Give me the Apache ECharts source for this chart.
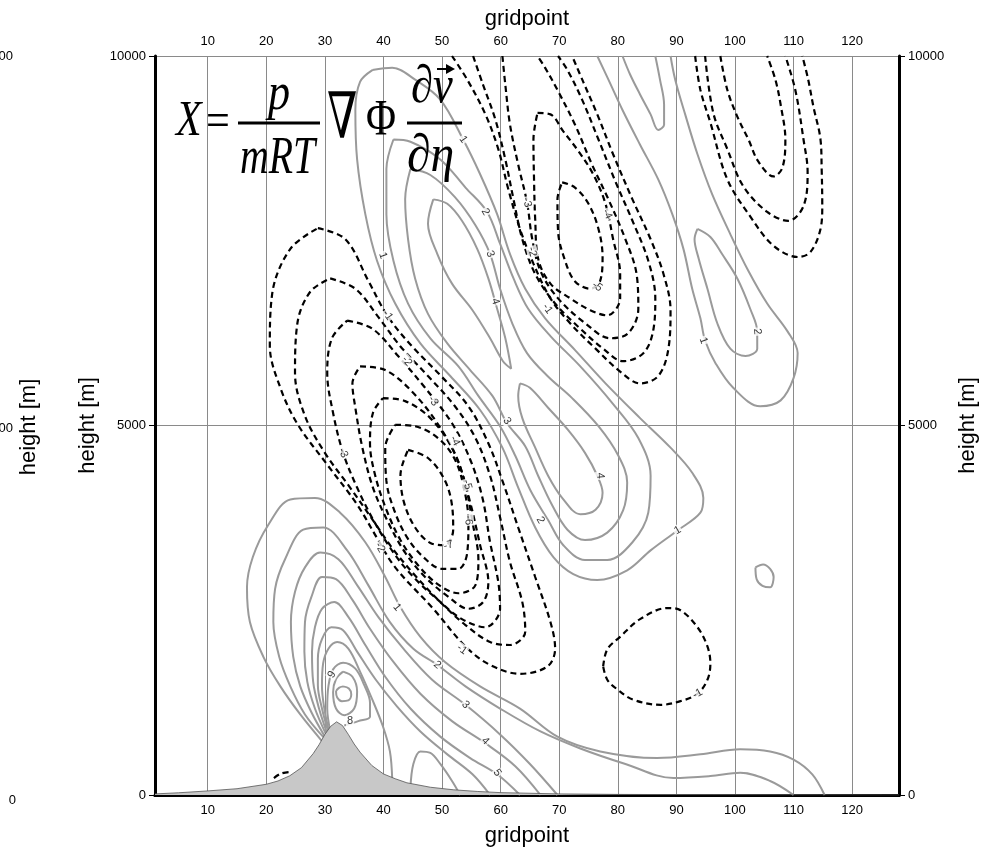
<!DOCTYPE html>
<html>
<head>
<meta charset="utf-8">
<title>X term contours</title>
<script src="https://cdn.jsdelivr.net/npm/echarts@6/dist/echarts.min.js"></script>
<style>
  html, body { margin: 0; padding: 0; background: #fff; }
  #chart { width: 994px; height: 852px; }
</style>
</head>
<body>
<div id="chart"></div>
<script>
// axis ticks
const xTicks = [10, 20, 30, 40, 50, 60, 70, 80, 90, 100, 110, 120];
const yTicks = [0, 5000, 10000];

// terrain profile (gridpoint, height m)
const terrainGrid = [1, 5, 10, 15, 20, 22, 24, 26, 28, 29, 30, 31, 32, 33, 34, 35, 36, 38, 40, 42, 44, 48, 52, 56, 60, 70, 80, 100, 128];
const terrainHeight = [15, 30, 55, 85, 145, 190, 260, 370, 560, 680, 820, 930, 990, 940, 820, 690, 580, 400, 285, 220, 165, 105, 70, 48, 32, 15, 8, 3, 0];

// negative contours, big lower cell (-1 .. -7)
const lowerNeg1 = [[28.8,7670],[33.5,7520],[37.4,6960],[40.8,6470],[44.9,6070],[49.7,5680],[54.5,5260],[57.9,4760],[60.4,4230],[63.0,3620],[65.9,2950],[68.5,2340],[69.3,1980],[68.0,1740],[63.3,1640],[58.2,1760],[54.0,2010],[48.5,2520],[42.0,3080],[39.1,3450],[35.5,3930],[30.4,4470],[25.4,5010],[22.4,5510],[20.6,6080],[21.0,6780],[24.1,7390],[28.8,7670]];
const lowerNeg2 = [[30.9,6990],[35.2,6850],[39.1,6470],[42.9,6070],[47.6,5670],[52.2,5260],[55.7,4830],[58.2,4320],[59.9,3760],[61.6,3150],[63.7,2610],[64.2,2210],[61.6,2030],[58.2,2070],[54.0,2300],[49.7,2610],[45.4,2970],[41.7,3320],[38.1,3730],[34.3,4160],[30.0,4630],[26.6,5130],[24.9,5710],[25.3,6380],[27.5,6810],[30.9,6990]];
const lowerNeg3 = [[33.8,6420],[38.1,6310],[42.5,5940],[47.1,5510],[51.7,5030],[54.8,4540],[56.9,4020],[58.2,3420],[59.6,2880],[59.9,2520],[57.4,2270],[53.4,2380],[49.3,2640],[45.1,2950],[41.7,3280],[38.2,3730],[35.5,4160],[33.1,4630],[31.4,5170],[30.4,5710],[31.2,6180],[33.8,6420]];
const lowerNeg4 = [[36.0,5800],[40.3,5750],[45.1,5440],[49.7,4970],[52.8,4500],[54.8,3960],[56.5,3380],[57.9,2880],[57.0,2610],[54.5,2520],[51.1,2680],[47.1,2950],[43.7,3280],[40.8,3690],[38.2,4160],[36.4,4700],[35.2,5240],[34.7,5570],[36.0,5800]];
const lowerNeg5 = [[39.9,5370],[43.7,5330],[48.0,5100],[51.9,4670],[54.0,4190],[55.2,3690],[56.2,3190],[55.7,2840],[52.8,2730],[49.3,2850],[45.9,3110],[42.9,3450],[40.5,3860],[38.6,4320],[37.7,4760],[38.2,5170],[39.9,5370]];
const lowerNeg6 = [[42.0,5010],[45.4,4990],[49.3,4830],[52.2,4540],[53.8,4130],[54.5,3690],[54.3,3280],[52.8,3060],[50.0,3060],[46.8,3220],[44.0,3490],[41.8,3860],[40.5,4250],[40.3,4700],[42.0,5010]];
const lowerNeg7 = [[44.2,4670],[47.6,4560],[50.4,4270],[51.7,3920],[51.9,3590],[50.5,3380],[48.0,3410],[45.4,3620],[43.5,3960],[42.9,4330],[44.2,4670]];

// negative contours, upper middle cell (-1 .. -5)
const upperNeg1 = [[51.7,10000],[54.3,9680],[57.4,9210],[59.6,8740],[61.3,8200],[63.3,7660],[65.6,7190],[68.5,6720],[71.9,6380],[76.2,6040],[80.4,5730],[83.8,5570],[86.9,5670],[88.6,6020],[89.0,6560],[87.8,7050],[85.6,7520],[82.5,8060],[79.2,8670],[76.5,9210],[74.1,9650],[72.2,10000]];
const upperNeg2 = [[55.3,10000],[57.0,9610],[59.1,9140],[60.8,8600],[62.2,8060],[63.7,7520],[65.9,7050],[69.3,6650],[73.6,6310],[77.5,6040],[80.9,5870],[84.4,5980],[86.1,6310],[86.4,6720],[85.2,7230],[82.5,7770],[79.6,8300],[76.7,8870],[73.9,9410],[71.4,9810],[69.8,10000]];
const upperNeg3 = [[60.3,10000],[60.8,9610],[61.6,9070],[63.0,8530],[64.5,8020],[65.4,7520],[66.8,7090],[69.8,6720],[74.5,6380],[78.7,6180],[81.8,6250],[83.5,6580],[83.2,7050],[81.3,7520],[78.4,8060],[75.6,8530],[72.7,9070],[69.7,9540],[67.6,9840],[66.3,10000]];
const upperNeg4 = [[66.3,9230],[68.5,9210],[70.7,8980],[73.3,8710],[75.8,8400],[77.9,8000],[79.2,7520],[80.4,7050],[80.4,6720],[78.2,6490],[75.3,6560],[71.9,6720],[68.5,6920],[66.4,7260],[65.9,7790],[65.7,8330],[65.6,8870],[66.3,9230]];
const upperNeg5 = [[70.5,8290],[72.7,8220],[75.0,8000],[76.7,7660],[77.4,7280],[77.0,6960],[75.3,6850],[72.7,6950],[71.0,7230],[69.8,7630],[69.7,8060],[70.5,8290]];

// negative contours, upper right cell
const rightNeg1 = [[97.5,10000],[98.7,9540],[100.4,9180],[102.3,8870],[104.0,8570],[106.6,8370],[108.1,8490],[108.6,8870],[107.8,9340],[106.9,9680],[105.5,10000]];
const rightNeg2 = [[94.9,10000],[96.3,9230],[98.7,8740],[101.4,8240],[105.5,7890],[109.1,7770],[111.7,7970],[112.4,8430],[111.7,8870],[110.3,9540],[108.6,10000]];
const rightNeg3 = [[93.2,10000],[94.1,9540],[95.8,9100],[98.7,8330],[102.6,7830],[106.6,7430],[110.8,7280],[112.9,7350],[114.6,7660],[114.9,7970],[114.8,8470],[114.6,8870],[113.4,9310],[112.5,9680],[111.5,10000]];

// small negative cells
const smallNeg = [[77.5,1740],[78.2,1970],[80.4,2140],[83.8,2380],[88.5,2530],[90.7,2500],[93.6,2270],[95.3,2010],[95.8,1780],[95.3,1560],[93.6,1370],[90.7,1270],[87.3,1220],[82.6,1290],[79.9,1430],[78.2,1560],[77.5,1740]];
const groundNeg = [[21.3,230],[22.5,290],[23.8,310]];

// positive band between the negative cells (1 .. 4)
const bandPos1 = [[38.1,9810],[41.5,9840],[45.4,9680],[49.7,9410],[53.6,8870],[56.5,8400],[59.4,7860],[61.6,7320],[64.2,6850],[67.6,6450],[72.7,6020],[77.9,5570],[83.8,5100],[89.0,4700],[92.7,4360],[94.6,4020],[94.1,3820],[90.2,3580],[85.6,3310],[81.6,3040],[76.5,2910],[72.4,2990],[69.0,3220],[65.9,3620],[63.0,4160],[60.3,4700],[56.5,5210],[51.4,5670],[46.3,6110],[42.0,6650],[38.9,7230],[36.9,7860],[35.5,8600],[35.2,9270],[36.0,9650],[38.1,9810]];
const bandPos2 = [[41.7,8870],[44.6,8840],[49.7,8600],[54.0,8220],[57.7,7890],[59.9,7460],[62.2,6990],[64.7,6580],[68.5,6210],[73.6,5800],[79.1,5300],[83.5,4830],[85.6,4320],[85.2,3820],[82.5,3420],[78.2,3180],[74.4,3180],[70.7,3380],[68.1,3720],[65.1,4120],[62.5,4590],[59.9,4990],[56.2,5400],[52.8,5800],[48.0,6180],[44.2,6650],[41.7,7230],[40.5,7860],[40.5,8470],[41.7,8870]];
const bandPos3 = [[44.6,8470],[48.0,8390],[52.2,8090],[55.7,7710],[58.2,7320],[59.9,6850],[62.0,6380],[64.5,5980],[68.0,5670],[72.2,5370],[76.7,4990],[80.1,4590],[81.6,4230],[80.9,3850],[78.2,3550],[74.4,3450],[71.4,3590],[68.8,3920],[66.4,4320],[64.2,4720],[61.1,5030],[58.6,5400],[54.8,5750],[50.9,6110],[47.6,6510],[45.4,6990],[44.2,7520],[43.7,8060],[44.6,8470]];
const bandPos4a = [[48.5,8060],[50.9,8000],[53.4,7770],[56.0,7390],[57.9,6990],[59.4,6580],[60.8,6180],[61.8,5770],[60.4,5870],[58.2,6180],[55.2,6560],[51.7,6920],[49.2,7320],[47.6,7730],[48.5,8060]];
const bandPos4b = [[63.3,5570],[65.0,5510],[68.1,5240],[71.5,4940],[74.4,4630],[76.5,4320],[77.4,4090],[76.2,3860],[73.6,3800],[70.5,4020],[68.1,4320],[65.9,4700],[63.7,5100],[63.0,5400],[63.3,5570]];

// positive contours, upper right
const rightPos1 = [[76.5,10000],[78.4,9680],[80.8,9270],[83.8,8800],[86.9,8330],[89.3,7860],[91.2,7390],[92.7,6850],[94.1,6450],[94.9,6150],[96.7,5840],[99.7,5510],[104.3,5260],[107.8,5340],[110.0,5640],[110.7,5980],[109.0,6270],[105.5,6650],[102.3,7090],[99.2,7590],[96.1,8130],[93.6,8670],[91.5,9210],[89.8,9680],[89.0,10000]];
const rightPosTop = [[80.8,10000],[82.1,9750],[83.8,9480],[85.6,9210],[86.9,9000],[87.9,9070],[87.9,9340],[87.2,9680],[86.4,10000]];
const rightPos2 = [[93.6,7660],[95.8,7550],[97.8,7320],[100.4,6990],[102.6,6580],[103.8,6270],[103.8,6040],[101.8,5940],[99.2,6040],[97.0,6380],[95.3,6850],[93.8,7260],[93.1,7520],[93.6,7660]];
const dotPos = [[103.5,3080],[104.8,3120],[106.0,3060],[106.6,2950],[106.0,2810],[104.7,2830],[103.7,2920],[103.5,3080]];

// positive contours over the hill (1 .. 10)
const hillPos1 = [[29.5,730],[25.8,1090],[22.4,1470],[19.5,1870],[17.2,2340],[16.7,2810],[17.7,3220],[20.3,3650],[24.1,4000],[28.3,4020],[32.6,3820],[36.9,3420],[40.3,2950],[42.9,2540],[46.3,2140],[50.5,1800],[56.5,1470],[63.3,1170],[69.7,790],[77.0,590],[86.7,500],[94.1,550],[100.9,620],[106.0,590],[110.0,480],[113.2,280],[115.3,0]];
const hillPos2 = [[29.9,770],[26.6,1090],[24.1,1470],[22.2,1870],[21.2,2340],[21.5,2790],[23.2,3190],[26.3,3590],[29.7,3620],[33.8,3310],[37.4,2840],[41.1,2340],[45.1,1980],[49.2,1760],[54.0,1470],[59.9,1170],[66.8,860],[73.6,630],[81.3,420],[89.5,230],[95.8,256],[100.9,300],[106.0,190],[110.0,0]];
const hillPos3 = [[30.0,790],[27.7,1120],[25.8,1470],[24.6,1870],[24.2,2340],[24.9,2750],[26.6,3080],[29.2,3280],[32.3,3190],[35.5,2840],[39.1,2410],[43.4,1980],[48.3,1560],[54.0,1220],[59.9,820],[65.0,420],[69.7,0]];
const hillPos4 = [[30.2,820],[28.3,1170],[27.0,1530],[26.5,1940],[26.6,2340],[27.7,2680],[29.5,2950],[31.9,2920],[34.7,2640],[37.7,2250],[41.7,1800],[46.3,1370],[51.7,1000],[57.4,700],[62.5,390],[66.8,0]];
const hillPos5 = [[30.4,830],[29.0,1170],[28.0,1530],[27.8,1940],[28.3,2270],[29.5,2520],[31.6,2610],[34.0,2410],[36.9,2030],[40.3,1600],[44.6,1170],[49.7,790],[54.8,500],[59.4,280],[63.3,0]];
const hillPos6 = [[30.6,850],[29.5,1170],[28.8,1490],[28.8,1840],[29.5,2110],[31.1,2270],[33.1,2230],[35.5,1940],[38.6,1570],[42.3,1200],[46.3,860],[50.9,550],[55.2,280],[58.2,0]];
const hillPos7 = [[30.7,860],[29.9,1170],[29.5,1470],[29.7,1780],[30.6,1980],[32.1,2070],[34.0,1980],[36.0,1670],[38.1,1290],[39.9,930],[41.1,590],[41.5,200]];
const hillPos8 = [[30.9,870],[30.4,1170],[30.6,1470],[31.4,1700],[33.1,1790],[35.2,1710],[36.7,1490],[37.7,1250],[37.7,1060],[35.7,1000],[33.3,940]];
const hillPos9 = [[33.1,1670],[34.7,1600],[35.5,1400],[35.0,1170],[33.3,1080],[31.9,1170],[31.4,1390],[31.9,1570],[33.1,1670]];
const hillPos10 = [[33.1,1470],[34.1,1440],[34.5,1360],[34.0,1280],[32.9,1270],[32.1,1320],[31.9,1400],[32.4,1450],[33.1,1470]];
const hillDip = [[44.6,90],[45.1,420],[46.3,590],[48.0,570],[49.7,420],[51.7,190],[53.1,0]];

// inline contour labels: gridpoint, height, text, angle
const contourLabels = [
  [40.7,6490,'-1',-55],[44.0,5870,'-2',-50],[48.5,5330,'-3',-55],[52.2,4790,'-4',-62],
  [54.3,4200,'-5',-75],[54.5,3720,'-6',-85],[51.1,3380,'-7',15],[33.1,4630,'-3',-65],
  [39.4,3350,'-2',-60],[53.4,1970,'-1',-35],
  [64.5,8020,'-3',-75],[65.4,7350,'-2',-75],[78.2,7860,'-4',-65],[76.5,6880,'-5',-35],[68.0,6580,'-1',-55],
  [93.6,1370,'-1',30],
  [39.9,7300,'1',-70],[53.6,8870,'1',-55],[57.4,7890,'2',-60],[58.2,7320,'3',-68],[59.1,6680,'4',-72],
  [61.1,5060,'3',-55],[66.8,3720,'2',-60],[77.0,4320,'4',-85],[90.2,3580,'1',30],
  [94.6,6150,'1',-70],[103.8,6270,'2',-85],
  [42.3,2540,'1',-50],[49.2,1760,'2',-40],[54.0,1220,'3',-45],[57.4,730,'4',-45],[59.4,300,'5',-55],
  [34.3,1000,'8',0],[31.2,1630,'9',60]
];

const dashedLines = [lowerNeg1, lowerNeg2, lowerNeg3, lowerNeg4, lowerNeg5, lowerNeg6, lowerNeg7,
  upperNeg1, upperNeg2, upperNeg3, upperNeg4, upperNeg5, rightNeg1, rightNeg2, rightNeg3, smallNeg, groundNeg];
const solidLines = [bandPos1, bandPos2, bandPos3, bandPos4a, bandPos4b, rightPos1, rightPosTop, rightPos2, dotPos,
  hillPos1, hillPos2, hillPos3, hillPos4, hillPos5, hillPos6, hillPos7, hillPos8, hillPos9, hillPos10, hillDip];

const sans = '"Liberation Sans", Arial, Helvetica, sans-serif';
const serif = '"Liberation Serif", "Times New Roman", "DejaVu Serif", serif';

function contourSeries(data, dashed) {
  return {
    type: 'line',
    data: data,
    xAxisIndex: 0,
    yAxisIndex: 0,
    symbol: 'none',
    smooth: 0.35,
    silent: true,
    z: 3,
    lineStyle: dashed
      ? { color: '#000', width: 2.2, type: [6, 4] }
      : { color: '#9a9a9a', width: 2 }
  };
}

const series = [];
solidLines.forEach(d => series.push(contourSeries(d, false)));
dashedLines.forEach(d => series.push(contourSeries(d, true)));

series.push({
  type: 'line',
  data: terrainGrid.map((g, i) => [g, terrainHeight[i]]),
  symbol: 'none',
  silent: true,
  z: 5,
  lineStyle: { color: '#555', width: 0.8 },
  areaStyle: { color: '#c8c8c8', opacity: 1 }
});

series.push({
  type: 'scatter',
  symbolSize: 1,
  silent: true,
  z: 4,
  itemStyle: { color: 'rgba(0,0,0,0)' },
  label: {
    show: true, position: 'inside', color: '#000', fontSize: 11, fontFamily: sans,
    backgroundColor: '#fff', padding: [0, 1]
  },
  data: contourLabels.map(([g, h, text, rot]) => ({
    value: [g, h],
    label: { formatter: text, rotate: rot }
  }))
});

const axisLineStyle = { show: true, lineStyle: { color: '#000', width: 3 } };
const plainNumber = v => String(v);

const chart = echarts.init(document.getElementById('chart'));
chart.setOption({
  animation: false,
  backgroundColor: '#fff',
  grid: { left: 155, right: 95, top: 56, bottom: 53 },
  xAxis: [
    {
      type: 'value', position: 'bottom', min: 1, max: 128,
      name: 'gridpoint', nameLocation: 'middle', nameGap: 30,
      nameTextStyle: { fontSize: 22, fontFamily: sans, color: '#000' },
      axisLine: axisLineStyle,
      axisTick: { show: false, customValues: xTicks },
      axisLabel: { customValues: xTicks, fontSize: 13, fontFamily: sans, color: '#000', margin: 9 },
      splitLine: { show: true, lineStyle: { color: '#8a8a8a', width: 1 } }
    },
    {
      type: 'value', position: 'top', min: 1, max: 128,
      name: 'gridpoint', nameLocation: 'middle', nameGap: 26,
      nameTextStyle: { fontSize: 22, fontFamily: sans, color: '#000' },
      axisLine: axisLineStyle,
      axisTick: { show: false, customValues: xTicks },
      axisLabel: { customValues: xTicks, fontSize: 13, fontFamily: sans, color: '#000', margin: 8 },
      splitLine: { show: false }
    }
  ],
  yAxis: [
    {
      type: 'value', position: 'left', min: 0, max: 10000, interval: 5000,
      name: 'height [m]', nameLocation: 'middle', nameGap: 47, nameRotate: 90,
      nameTextStyle: { fontSize: 22, fontFamily: sans, color: '#000' },
      axisLine: axisLineStyle,
      axisTick: { show: true, length: 6, lineStyle: { color: '#000', width: 1 } },
      axisLabel: { fontSize: 13, fontFamily: sans, color: '#000', margin: 9, formatter: plainNumber },
      splitLine: { show: true, lineStyle: { color: '#8a8a8a', width: 1 } }
    },
    {
      type: 'value', position: 'right', min: 0, max: 10000, interval: 5000,
      name: 'height [m]', nameLocation: 'middle', nameGap: 58, nameRotate: 90,
      nameTextStyle: { fontSize: 22, fontFamily: sans, color: '#000' },
      axisLine: axisLineStyle,
      axisTick: { show: true, length: 6, lineStyle: { color: '#000', width: 1 } },
      axisLabel: { fontSize: 13, fontFamily: sans, color: '#000', margin: 9, formatter: plainNumber },
      splitLine: { show: false }
    }
  ],
  graphic: [
    // remains of the neighbouring panel on the left
    { type: 'text', x: 13, y: 56, style: { text: '10000', font: '13px ' + sans, fill: '#000', textAlign: 'right', textVerticalAlign: 'middle' } },
    { type: 'text', x: 13, y: 428, style: { text: '5000', font: '13px ' + sans, fill: '#000', textAlign: 'right', textVerticalAlign: 'middle' } },
    { type: 'text', x: 16, y: 800, style: { text: '0', font: '13px ' + sans, fill: '#000', textAlign: 'right', textVerticalAlign: 'middle' } },
    { type: 'text', x: 29, y: 427, rotation: Math.PI / 2, style: { text: 'height [m]', font: '22px ' + sans, fill: '#000', textAlign: 'center', textVerticalAlign: 'middle' } },
    // formula
    { type: 'text', x: 176, y: 122, scaleX: 0.84, z: 20, style: { text: 'X', font: 'italic 50px ' + serif, fill: '#000', textVerticalAlign: 'middle' } },
    { type: 'text', x: 206, y: 123, scaleX: 0.88, z: 20, style: { text: '=', font: '48px ' + serif, fill: '#000', textVerticalAlign: 'middle' } },
    { type: 'rect', z: 20, shape: { x: 238, y: 121.5, width: 82, height: 3 }, style: { fill: '#000' } },
    { type: 'text', x: 268, y: 95, scaleX: 0.85, z: 20, style: { text: 'p', font: 'italic 52px ' + serif, fill: '#000', textVerticalAlign: 'middle' } },
    { type: 'text', x: 240, y: 159, scaleX: 0.75, z: 20, style: { text: 'mRT', font: 'italic 53px ' + serif, fill: '#000', textVerticalAlign: 'middle' } },
    { type: 'text', x: 327, y: 121, scaleX: 0.68, z: 20, style: { text: '\u2207', font: '64px ' + serif, fill: '#000', textVerticalAlign: 'middle' } },
    { type: 'text', x: 366, y: 121, scaleX: 0.82, z: 20, style: { text: '\u03A6', font: '50px ' + serif, fill: '#000', textVerticalAlign: 'middle' } },
    { type: 'rect', z: 20, shape: { x: 407, y: 121.5, width: 55, height: 3 }, style: { fill: '#000' } },
    { type: 'text', x: 411, y: 88, scaleX: 0.84, z: 20, style: { text: '\u2202v', font: 'italic 53px ' + serif, fill: '#000', textVerticalAlign: 'middle' } },
    { type: 'polyline', z: 20, shape: { points: [[437, 69], [449, 69]] }, style: { stroke: '#000', lineWidth: 2 } },
    { type: 'polygon', z: 20, shape: { points: [[455, 69], [446, 64], [446, 74]] }, style: { fill: '#000' } },
    { type: 'text', x: 407, y: 157, scaleX: 0.9, z: 20, style: { text: '\u2202\u03B7', font: 'italic 53px ' + serif, fill: '#000', textVerticalAlign: 'middle' } }
  ],
  series: series
});
</script>
</body>
</html>
